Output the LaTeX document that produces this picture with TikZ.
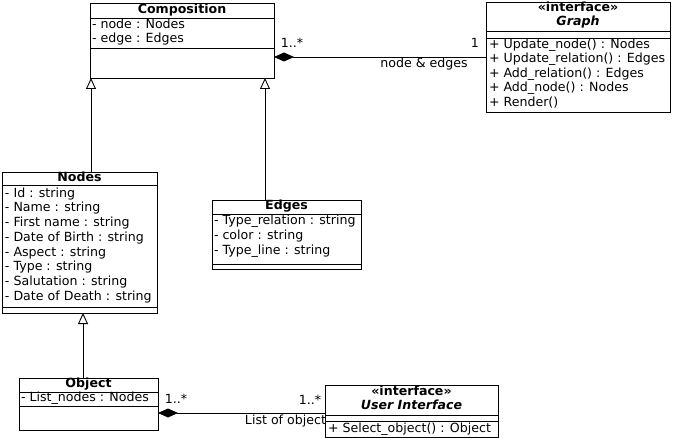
\documentclass[tikz,border=0pt]{standalone}
\usepackage{fontspec}
\setmainfont{DejaVu Sans}
\usetikzlibrary{arrows.meta}
\begin{document}
\begin{tikzpicture}[x=1pt,y=-1pt,
 every node/.style={font=\fontsize{12.6}{14}\selectfont, inner sep=0pt, outer sep=0pt},
 box/.style={draw, line width=0.9pt, anchor=north west},
 txt/.style={anchor=west, text height=9pt, text depth=2.5pt},
 ttl/.style={anchor=center, font=\fontsize{12.6}{14}\selectfont\bfseries, text height=9pt, text depth=2.5pt},
 ittl/.style={anchor=center, font=\fontsize{12.6}{14}\selectfont\bfseries\itshape, text height=9pt, text depth=2.5pt},
 lbl/.style={text height=9pt, text depth=2.5pt},
 sep/.style={line width=0.9pt},
 inh/.style={line width=0.9pt, -{Triangle[open,length=11pt,width=10pt]}},
 cmp/.style={line width=0.9pt, {Diamond[length=20pt,width=9pt]}-}
]
\useasboundingbox (0,0) rectangle (674,438);

% Composition
\node[box, minimum width=184pt, minimum height=75pt] (comp) at (90,3) {};
\draw[sep] (comp.west |- 0,18) -- (comp.east |- 0,18);
\draw[sep] (comp.west |- 0,48) -- (comp.east |- 0,48);
\node[ttl] (compT) at (182,10) {Composition};
\node[txt] (compA1) at (92,25) {- node : Nodes};
\node[txt] (compA2) at (92,39.5) {- edge : Edges};

% Graph
\node[box, minimum width=184pt, minimum height=110pt] (graph) at (486,2) {};
\draw[sep] (graph.west |- 0,31) -- (graph.east |- 0,31);
\draw[sep] (graph.west |- 0,38) -- (graph.east |- 0,38);
\node[ttl] (graphS) at (578,8.5) {«interface»};
\node[ittl] (graphT) at (578,22.5) {Graph};
\node[txt] (graphM1) at (489,45) {+ Update\_node() : Nodes};
\node[txt] (graphM2) at (489,59.5) {+ Update\_relation() : Edges};
\node[txt] (graphM3) at (489,74) {+ Add\_relation() : Edges};
\node[txt] (graphM4) at (489,88.5) {+ Add\_node() : Nodes};
\node[txt] (graphM5) at (489,103) {+ Render()};

% Nodes
\node[box, minimum width=155pt, minimum height=141pt] (nodes) at (2,172) {};
\draw[sep] (nodes.west |- 0,185) -- (nodes.east |- 0,185);
\draw[sep] (nodes.west |- 0,307) -- (nodes.east |- 0,307);
\node[ttl] (nodesT) at (79.5,178.5) {Nodes};
\node[txt] (nA1) at (5,194) {- Id : string};
\node[txt] (nA2) at (5,208.7) {- Name : string};
\node[txt] (nA3) at (5,223.4) {- First name : string};
\node[txt] (nA4) at (5,238.1) {- Date of Birth : string};
\node[txt] (nA5) at (5,252.8) {- Aspect : string};
\node[txt] (nA6) at (5,267.5) {- Type : string};
\node[txt] (nA7) at (5,282.2) {- Salutation : string};
\node[txt] (nA8) at (5,296.9) {- Date of Death : string};

% Edges
\node[box, minimum width=149pt, minimum height=69pt] (edges) at (212,200) {};
\draw[sep] (edges.west |- 0,214) -- (edges.east |- 0,214);
\draw[sep] (edges.west |- 0,264) -- (edges.east |- 0,264);
\node[ttl] (edgesT) at (286.5,206.5) {Edges};
\node[txt] (eA1) at (214,221.5) {- Type\_relation : string};
\node[txt] (eA2) at (214,236.5) {- color : string};
\node[txt] (eA3) at (214,251.5) {- Type\_line : string};

% Object
\node[box, minimum width=139pt, minimum height=52pt] (obj) at (19,378) {};
\draw[sep] (obj.west |- 0,392) -- (obj.east |- 0,392);
\draw[sep] (obj.west |- 0,406) -- (obj.east |- 0,406);
\node[ttl] (objT) at (88.5,384.5) {Object};
\node[txt] (oA1) at (21,398.5) {- List\_nodes : Nodes};

% User Interface
\node[box, minimum width=173pt, minimum height=52pt] (ui) at (325,385) {};
\draw[sep] (ui.west |- 0,415) -- (ui.east |- 0,415);
\draw[sep] (ui.west |- 0,421) -- (ui.east |- 0,421);
\node[ttl] (uiS) at (411.5,392) {«interface»};
\node[ittl] (uiT) at (411.5,406.5) {User Interface};
\node[txt] (uiM1) at (328,429) {+ Select\_object() : Object};

% Generalizations
\draw[inh] ([xshift=1pt]comp.south west |- nodes.north) -- ([xshift=1pt]comp.south west);
\draw[inh] ([xshift=-9pt]comp.south east |- edges.north) -- ([xshift=-9pt]comp.south east);
\draw[inh] ([xshift=-5.5pt]obj.north) -- ([xshift=-5.5pt]obj.north |- nodes.south);

% Compositions
\draw[cmp] (comp.east |- graph.west) -- (graph.west);
\node[lbl] (m1) at (292,44) {1..*};
\node[lbl] (m2) at (475,44) {1};
\node[lbl] (r1) at (424,64.5) {node \& edges};

\coordinate (uiIn) at ([yshift=-2pt]ui.west);
\draw[cmp] (obj.east |- uiIn) -- (uiIn);
\node[lbl] (m3) at (176,400.5) {1..*};
\node[lbl] (m4) at (310,401.5) {1..*};
\node[lbl, anchor=east] (r2) at (326,421.5) {List of object};
\end{tikzpicture}
\end{document}
